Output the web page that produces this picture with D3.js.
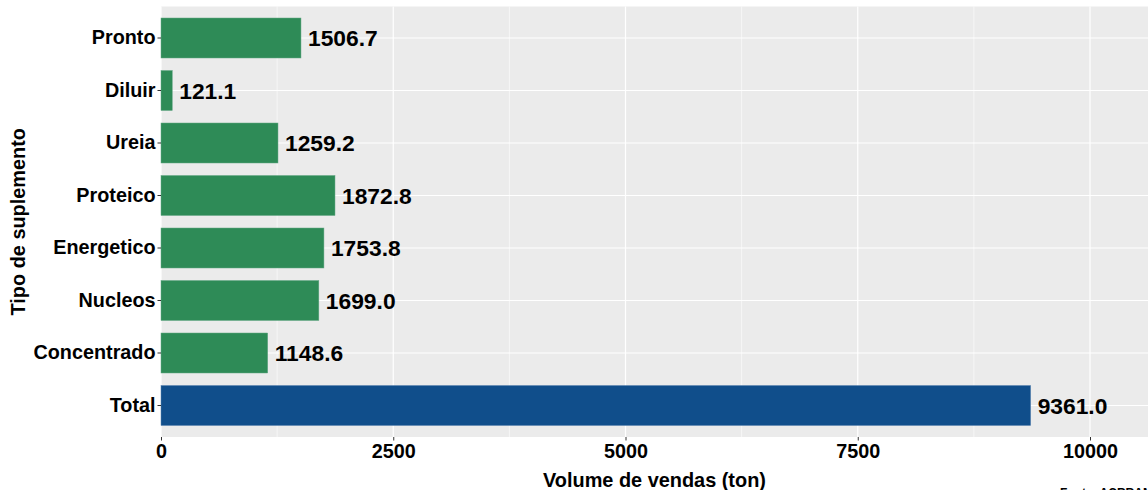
<!DOCTYPE html>
<html>
<head>
<meta charset="utf-8">
<script src="https://cdn.jsdelivr.net/npm/d3@7"></script>
<style>
  body { margin: 0; background: #fff; }
  text { font-family: "Liberation Sans", Arial, sans-serif; font-weight: bold; }
</style>
</head>
<body>
<svg id="chart" width="1148" height="490"></svg>
<script>
// categories from top to bottom
const categorias = ["Pronto", "Diluir", "Ureia", "Proteico", "Energetico", "Nucleos", "Concentrado", "Total"];
const volumes = [1506.7, 121.1, 1259.2, 1872.8, 1753.8, 1699.0, 1148.6, 9361.0];
const xTicks = [0, 2500, 5000, 7500, 10000];
const xMinor = [1250, 3750, 6250, 8750];

const svg = d3.select("#chart");
const panel = {left: 161, right: 1148, top: 6.5, bottom: 437};

// x scale: 0 -> 161px, 10000 -> 1090px
const x = d3.scaleLinear().domain([0, 10000]).range([panel.left, 1090]);
//ggplot style: 0.6 step of room at each end, bars 0.76 of a step
const y = d3.scaleBand().domain(categorias)
    .range([panel.top, panel.bottom]).paddingInner(0.238).paddingOuter(0.219);

//grey panel
svg.append("rect")
    .attr("x", panel.left).attr("y", panel.top)
    .attr("width", panel.right - panel.left).attr("height", panel.bottom - panel.top)
    .style("fill", "#ebebeb");

//grid lines
const grid = svg.append("g");
grid.selectAll(".minor").data(xMinor).enter().append("line")
    .attr("x1", d => x(d)).attr("x2", d => x(d))
    .attr("y1", panel.top).attr("y2", panel.bottom)
    .style("stroke", "#fff").style("stroke-width", 0.6);
grid.selectAll(".major").data(xTicks).enter().append("line")
    .attr("x1", d => x(d)).attr("x2", d => x(d))
    .attr("y1", panel.top).attr("y2", panel.bottom)
    .style("stroke", "#fff").style("stroke-width", 1.2);
grid.selectAll(".hmajor").data(categorias).enter().append("line")
    .attr("x1", panel.left).attr("x2", panel.right)
    .attr("y1", d => y(d) + y.bandwidth() / 2).attr("y2", d => y(d) + y.bandwidth() / 2)
    .style("stroke", "#fff").style("stroke-width", 1.2);

//bars
svg.selectAll(".bar").data(categorias).enter().append("rect")
    .attr("x", x(0))
    .attr("y", d => y(d))
    .attr("width", (d, i) => x(volumes[i]) - x(0))
    .attr("height", y.bandwidth())
    .style("fill", d => d == "Total" ? "#104E8B" : "#2E8B57")
    .style("stroke", d => d == "Total" ? "#5a84b0" : "#66a886")
    .style("stroke-width", 0.5);

//value labels
svg.selectAll(".lbl").data(categorias).enter().append("text")
    .attr("x", (d, i) => x(volumes[i]) + 7)
    .attr("y", d => y(d) + y.bandwidth() / 2)
    .attr("dy", "0.36em")
    .style("font-size", "22.8px")
    .style("fill", "#000")
    .text((d, i) => volumes[i].toFixed(1));

//y axis
const yAxis = svg.append("g")
    .attr("transform", "translate(" + panel.left + ",0)")
    .call(d3.axisLeft(y).tickSize(3.5).tickPadding(2));
yAxis.select(".domain").remove();
yAxis.selectAll("line").style("stroke", "#333");
yAxis.selectAll("text").style("font-size", "19.8px").style("fill", "#000")
    .style("font-family", "'Liberation Sans', Arial, sans-serif");

//x axis
const xAxis = svg.append("g")
    .attr("transform", "translate(0," + panel.bottom + ")")
    .call(d3.axisBottom(x).tickValues(xTicks).tickSize(3.5).tickPadding(3).tickFormat(d3.format("d")));
xAxis.select(".domain").remove();
xAxis.selectAll("line").style("stroke", "#333");
xAxis.selectAll("text").style("font-size", "19.8px").style("fill", "#000")
    .style("font-family", "'Liberation Sans', Arial, sans-serif");

//axis titles
svg.append("text")
    .attr("x", (panel.left + panel.right) / 2)
    .attr("y", 487)
    .attr("text-anchor", "middle")
    .style("font-size", "19.9px")
    .text("Volume de vendas (ton)");

svg.append("text")
    .attr("transform", "translate(25," + (panel.top + panel.bottom) / 2 + ")rotate(-90)")
    .attr("text-anchor", "middle")
    .style("font-size", "19.9px")
    .text("Tipo de suplemento");

//caption, cut off at the bottom edge like the reference
svg.append("text")
    .attr("x", 1060)
    .attr("y", 497)
    .style("font-size", "12px")
    .text("Fonte: ACRRAM");
</script>
</body>
</html>
